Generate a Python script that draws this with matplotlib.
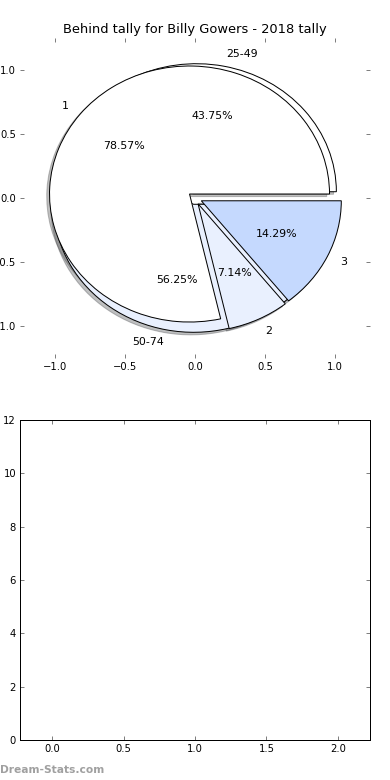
import matplotlib
matplotlib.use("Agg")
import matplotlib.pyplot as plt

# Data
tally_labels = ['1', '2', '3']
tally_values = [11, 1, 2]
range_labels = ['25-49', '50-74']
range_values = [7, 9]
bar_positions = [0, 1, 2]
bar_values = [0, 0, 0]

colours = ['white', '#e9f0fe', '#c5d9fe']
explode_amount = 0.05
shadow_style = {'ox': -0.02, 'oy': -0.02, 'alpha': 0.35}

fig = plt.figure(figsize=(390 / 72, 780 / 72), dpi=72)
ax1 = fig.add_axes([0.0513, 0.541, 0.8974, 0.4103])
ax2 = fig.add_axes([0.0513, 0.0513, 0.8974, 0.4103])

# Range pie first, tally pie drawn on top of it
ax1.pie(range_values, labels=range_labels, colors=colours[:2],
        explode=[explode_amount] * len(range_values), autopct='%1.2f%%',
        shadow=shadow_style, frame=True, textprops={'fontsize': 11},
        wedgeprops={'linewidth': 1.0, 'edgecolor': 'black'})
ax1.pie(tally_values, labels=tally_labels, colors=colours,
        explode=[explode_amount] * len(tally_values), autopct='%1.2f%%',
        shadow=shadow_style, frame=True, textprops={'fontsize': 11},
        wedgeprops={'linewidth': 1.0, 'edgecolor': 'black'})
ax1.set_aspect('auto')
ax1.set_frame_on(False)
ax1.set_xlim(-1.25, 1.25)
ax1.set_ylim(-1.25, 1.25)
ax1.set_xticks([-1.0, -0.5, 0.0, 0.5, 1.0])
ax1.set_yticks([-1.0, -0.5, 0.0, 0.5, 1.0])
ax1.set_title('Behind tally for Billy Gowers - 2018 tally', fontsize=13, pad=5)

# Empty bar chart underneath
ax2.bar(bar_positions, bar_values, width=0.45, color='#c5d9fe', edgecolor='black')
ax2.set_xlim(-0.225, 2.225)
ax2.set_ylim(0, 12)
ax2.set_xticks([0.0, 0.5, 1.0, 1.5, 2.0])
ax2.set_yticks(range(0, 13, 2))
for spine in ax2.spines.values():
    spine.set_linewidth(1.0)

for ax in (ax1, ax2):
    ax.tick_params(direction='in', top=True, right=True, length=4, width=0.5,
                   labelsize=10, pad=4)

fig.text(0.0, 0.0128, 'Dream-Stats.com', fontsize=10.6, fontweight='bold',
         color='#a0a0a0', ha='left', va='center')

fig.savefig('out.png', dpi=72)
